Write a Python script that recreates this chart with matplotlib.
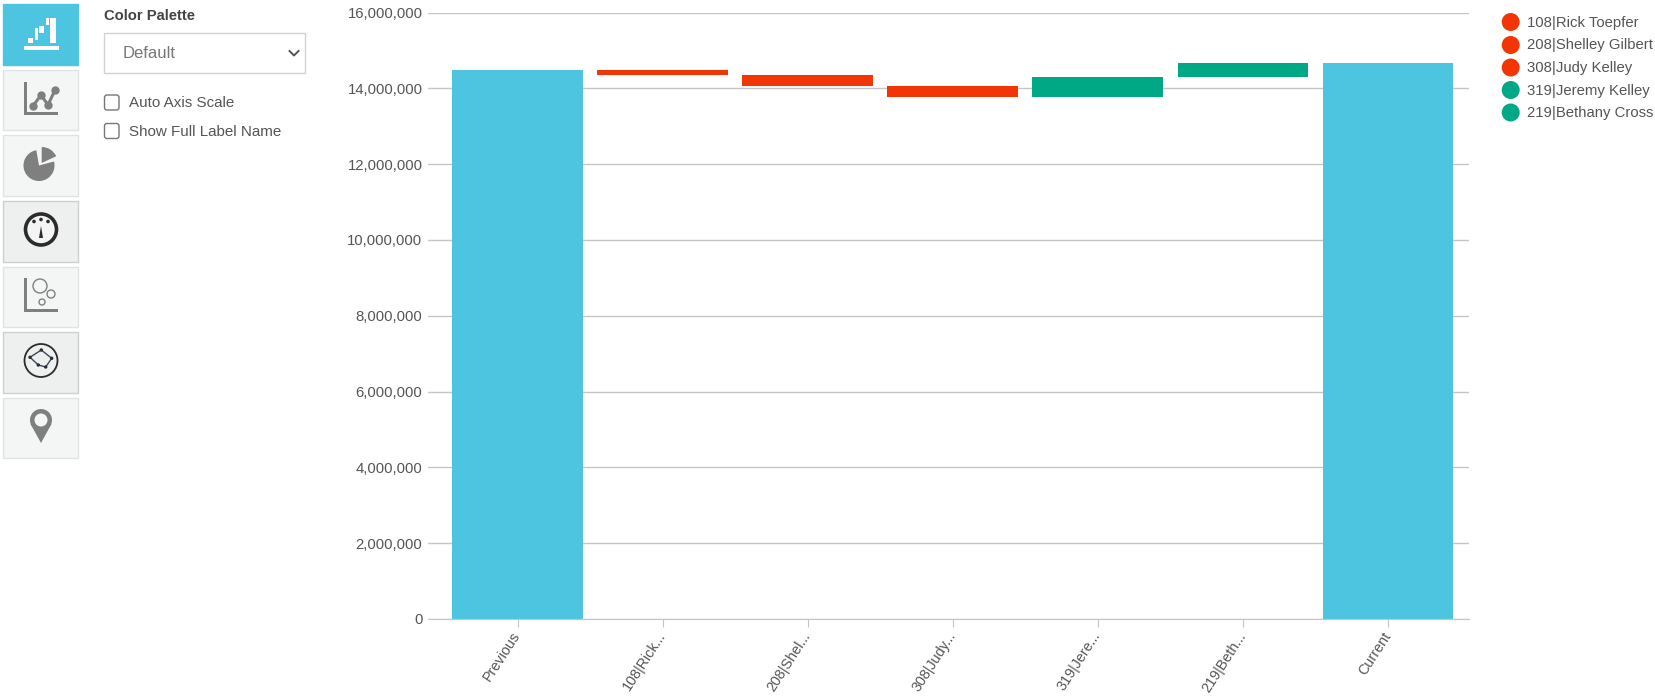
import matplotlib
matplotlib.use("Agg")
import matplotlib.pyplot as plt
from matplotlib.patches import Rectangle, Circle, Wedge, Polygon, FancyBboxPatch
from matplotlib.ticker import FuncFormatter

plt.rcParams['font.family'] = ['Liberation Sans', 'DejaVu Sans']

W, H = 1656, 698

# ---- data ----
categories = ["Previous", "108|Rick...", "208|Shel...", "308|Judy...", "319|Jere...", "219|Beth...", "Current"]
previous_total = 14480000
current_total = 14660000
delta_names = ["108|Rick Toepfer", "208|Shelley Gilbert", "308|Judy Kelley", "319|Jeremy Kelley", "219|Bethany Cross"]
delta_values = [-120000, -310000, -290000, 540000, 370000]
y_ticks = [0, 2000000, 4000000, 6000000, 8000000, 10000000, 12000000, 14000000, 16000000]
palette_options = ["Default"]
check_labels = ["Auto Axis Scale", "Show Full Label Name"]

BLUE, RED, GREEN = "#4DC5E0", "#F23505", "#00A886"
TEXT = "#555555"
GRID = "#C6C6C6"
FS = 10.7

fig = plt.figure(figsize=(W / 100, H / 100), dpi=100, facecolor="white")

# ---- main chart ----
L, R, T, B = 428, 1469, 12.5, 619
ax = fig.add_axes([L / W, 1 - B / H, (R - L) / W, (B - T) / H])
ax.set_xlim(-0.617, 6.559)
ax.set_ylim(0, 16000000)
ax.yaxis.grid(True, color=GRID, lw=1)
ax.set_axisbelow(True)
for s in ["top", "right", "left"]:
    ax.spines[s].set_visible(False)
ax.spines["bottom"].set_color(GRID)

width = 0.9
ax.bar(0, previous_total, width, color=BLUE)
running = previous_total
for i, d in enumerate(delta_values):
    ax.bar(i + 1, abs(d), width, bottom=min(running, running + d), color=RED if d < 0 else GREEN)
    running += d
ax.bar(6, current_total, width, color=BLUE)

ax.set_yticks(y_ticks)
ax.yaxis.set_major_formatter(FuncFormatter(lambda v, _: f"{int(v):,}"))
ax.tick_params(axis="y", length=0, pad=4, labelsize=FS, labelcolor=TEXT)
ax.set_xticks(range(len(categories)))
ax.set_xticklabels(categories, rotation=57, ha="right", va="center", rotation_mode="anchor", fontsize=10.4, color=TEXT)
ax.tick_params(axis="x", length=6, color=GRID, pad=4)

# ---- overlay in pixel coordinates ----
ui = fig.add_axes([0, 0, 1, 1], facecolor="none")
ui.set_xlim(0, W)
ui.set_ylim(H, 0)
ui.axis("off")

# legend
legend_y = [22, 45, 67.5, 90, 112.5]
for name, d, y in zip(delta_names, delta_values, legend_y):
    ui.add_patch(Circle((1510.7, y), 9, color=RED if d < 0 else GREEN, lw=0))
    ui.text(1527, y + 0.5, name, fontsize=FS, color=TEXT, va="center", ha="left")

# controls
ui.text(104, 16, "Color Palette", fontsize=10.6, fontweight="bold", color="#444444", va="center")
ui.add_patch(Rectangle((104.5, 32.5), 201, 40, fc="white", ec="#D2D2D2", lw=1))
ui.text(123, 54, palette_options[0], fontsize=12, color="#777777", va="center")
ui.plot([289.5, 294, 298.5], [51, 55.5, 51], color="#555555", lw=1.4)
for y, lab in zip([102.5, 131], check_labels):
    ui.add_patch(FancyBboxPatch((106, y - 6), 11.5, 12, boxstyle="round,pad=1.5,rounding_size=2.5",
                                fc="white", ec="#767676", lw=1))
    ui.text(129, y + 0.5, lab, fontsize=10.9, color=TEXT, va="center")

# sidebar tiles
tiles = [(4, 65), (70, 130), (135, 196), (201, 262), (267, 327), (332, 393), (398, 458)]
for i, (t, b) in enumerate(tiles):
    fc, ec = ("#F4F6F6", "#E2E2E2")
    if i == 0:
        fc, ec = BLUE, BLUE
    if i in (3, 5):
        fc, ec = "#EEEFEF", "#CFCFCF"
    ui.add_patch(Rectangle((3.5, t), 75, b - t, fc=fc, ec=ec, lw=1))

GI = "#7F7F7F"
DK = "#2B2B2B"
# waterfall icon
for x0, x1, y0, y1 in [(24, 59, 46, 50), (28, 33, 38, 43), (35, 38, 28, 40), (39, 44, 26, 33), (46, 49, 18, 25), (50, 56, 18, 43)]:
    ui.add_patch(Rectangle((x0, y0), x1 - x0, y1 - y0, fc="white", lw=0))
# line icon
ui.add_patch(Rectangle((24, 82), 3, 33, fc=GI, lw=0))
ui.add_patch(Rectangle((24, 111.5), 34, 3.5, fc=GI, lw=0))
ui.plot([33, 41, 48, 55], [106, 95, 105, 90], color=GI, lw=2.2, marker="o", ms=5)
# pie icon
ui.add_patch(Wedge((39, 165.5), 15.5, -15, 260, fc=GI, lw=0))
ui.add_patch(Wedge((41.7, 163), 16, -90, -25, fc=GI, lw=0))
# gauge icon
ui.add_patch(Circle((41, 229.5), 15.5, fc="#F4F4F4", ec=DK, lw=2.6))
ui.add_patch(Polygon([(39, 238), (43, 238), (41, 226)], fc=DK, lw=0))
for x, y in [(34, 221.5), (41, 219.5), (48, 221.5)]:
    ui.add_patch(Circle((x, y), 1.8, fc=DK, lw=0))
# bubble icon
ui.add_patch(Rectangle((24, 278), 3.5, 34, fc=GI, lw=0))
ui.add_patch(Rectangle((24, 308.5), 34, 3.5, fc=GI, lw=0))
for x, y, r in [(40, 286, 7), (51, 294, 4), (42, 302, 3)]:
    ui.add_patch(Circle((x, y), r, fc="none", ec=GI, lw=1))
# radar icon
ui.add_patch(Circle((41, 360.5), 16.5, fc="none", ec=DK, lw=1.3))
radar = [(41.3, 350), (51.7, 358.3), (45.7, 367), (38.3, 365), (30, 357.3)]
ui.add_patch(Polygon(radar, fc="none", ec="#3A4A5A", lw=1))
for x, y in radar:
    ui.add_patch(Circle((x, y), 1.7, fc=DK, lw=0))
# pin icon
ui.add_patch(Polygon([(30.5, 424), (41, 443), (51.5, 424)], fc=GI, lw=0))
ui.add_patch(Circle((41, 420), 11, fc=GI, lw=0))
ui.add_patch(Circle((41, 420), 6.5, fc="#F4F6F6", lw=0))

fig.savefig("out.png", dpi=100, facecolor="white")
